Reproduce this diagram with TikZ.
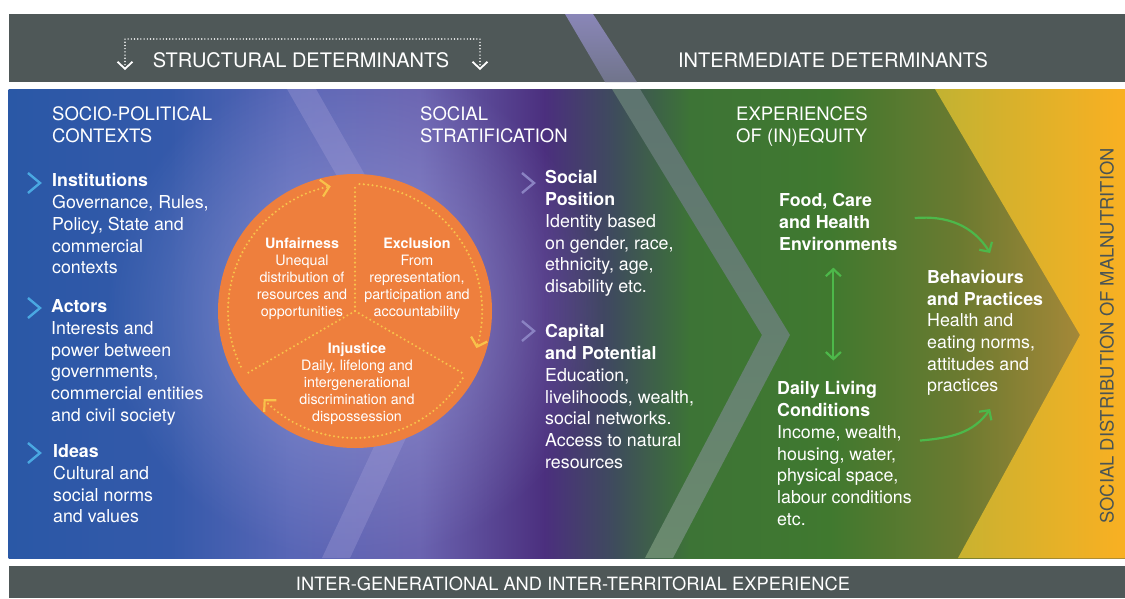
\documentclass[tikz,border=0pt]{standalone}
\usepackage{fontspec}
\setmainfont{TeX Gyre Heros}
\usetikzlibrary{arrows.meta,fadings}

\definecolor{barc}{HTML}{4F5858}
\definecolor{pa}{HTML}{2A58A6}
\definecolor{pb}{HTML}{3459AA}
\definecolor{pc}{HTML}{5866B6}
\definecolor{pd}{HTML}{6A63B0}
\definecolor{pe}{HTML}{4B2F7E}
\definecolor{pf}{HTML}{3E4C5C}
\definecolor{pg}{HTML}{3D7436}
\definecolor{ph}{HTML}{40792F}
\definecolor{pi}{HTML}{6B7A30}
\definecolor{pj}{HTML}{A58838}
\definecolor{yl}{HTML}{C2B232}
\definecolor{ym}{HTML}{F0B12A}
\definecolor{yr}{HTML}{F9B022}
\definecolor{glowc}{HTML}{A4A8E0}
\definecolor{bandc}{HTML}{A29ED8}
\definecolor{bandtop}{HTML}{5E7470}
\definecolor{bandmid}{HTML}{62B23E}
\definecolor{bandbot}{HTML}{6A8A6E}
\definecolor{ringc}{HTML}{EE7F3D}
\definecolor{dotc}{HTML}{F8C24A}
\definecolor{markblue}{HTML}{4AA8E2}
\definecolor{markpurp}{HTML}{8A82C2}
\definecolor{arrowgreen}{HTML}{4DB84A}
\definecolor{vtext}{HTML}{4A5454}

\tikzfading[name=glowfade, inner color=transparent!35, outer color=transparent!100]

\tikzset{
  colhead/.style={anchor=north west, inner sep=0pt, align=left, text=white, font=\fontsize{18.5}{22}\selectfont},
  colitem/.style={anchor=north west, inner sep=0pt, align=left, text=white, font=\fontsize{17.8}{21.7}\selectfont},
  ringtext/.style={inner sep=0pt, align=center, text=white, font=\fontsize{14.3}{17}\selectfont},
  bartext/.style={text=white, font=\fontsize{20}{24}\selectfont},
  ringdots/.style={dotc, line width=2.3pt, line cap=round, dash pattern=on 0pt off 4.4pt},
  ringtip/.style={-{Straight Barb[length=8pt,width=17pt,line width=2.2pt]}},
  chevmark/.style={line width=2.4pt},
  flow/.style={arrowgreen, line width=2.2pt, -{Straight Barb[length=7pt,width=15pt]}},
  dblflow/.style={arrowgreen, line width=2.2pt, {Straight Barb[length=7pt,width=15pt]}-{Straight Barb[length=7pt,width=15pt]}},
}

\begin{document}
\begin{tikzpicture}[x=1pt, y=1pt]
\useasboundingbox (0,0) rectangle (1125,-598);

% bars
\fill[barc] (9,-14) rectangle (1125,-82);
\fill[barc] (9,-566) rectangle (1125,-598);
\shade[top color=bandc!85!black, bottom color=barc!60!bandc] (565,-14) -- (593,-14) -- (637,-82) -- (605,-82) -- cycle;

% main panel
\foreach \xa/\xb/\ca/\cb in {9/170/pa/pb, 170/290/pb/pc, 290/420/pc/pd, 420/545/pd/pe, 545/615/pe/pf,
  615/690/pf/pg, 690/830/pg/ph, 830/960/ph/pi, 960/1080/pi/pj, 1080/1125/pj/pj}
  \shade[left color=\ca, right color=\cb] (\xa-0.5,-89) rectangle (\xb+0.5,-558);
\begin{scope}
  \clip (9,-89) rectangle (1125,-558);
  \fill[glowc, path fading=glowfade] (355,-311) circle (250);
\end{scope}

% chevrons
\fill[bandc, opacity=0.35] (287,-89) -- (316,-89) -- (455,-333) -- (350,-558) -- (322,-558) -- (427,-333) -- cycle;
\shade[top color=bandtop, middle color=bandmid, bottom color=bandbot]
  (612,-89) -- (640,-89) -- (790,-335) -- (673,-558) -- (645,-558) -- (762,-335) -- cycle;
\shade[left color=yl, middle color=ym, right color=yr] (935,-89) -- (1080,-335) -- (958,-558) -- (1125,-558) -- (1125,-89) -- cycle;

% top and bottom labels
\node[bartext] (struct) at (301,-60.5) {STRUCTURAL DETERMINANTS};
\node[bartext] (interm) at (833,-60.5) {INTERMEDIATE DETERMINANTS};
\node[bartext, font=\fontsize{18.3}{22}\selectfont] (intergen) at (573,-584) {INTER-GENERATIONAL AND INTER-TERRITORIAL EXPERIENCE};
\coordinate (bl) at (125,-70);
\coordinate (br) at (480,-70);
\draw[white, line width=1.6pt, line cap=round, dash pattern=on 0pt off 3.2pt,
  {Straight Barb[length=7pt,width=15pt,line width=1.8pt]}-{Straight Barb[length=7pt,width=15pt,line width=1.8pt]}]
  (bl) |- (480,-39) -- (br);

% the circle
\node[circle, fill=ringc, minimum size=274pt, inner sep=0pt] (ring) at (355,-311) {};
\draw[ringdots] (ring.center) -- ++(90:124);
\draw[ringdots] (ring.center) -- ++(210:126);
\draw[ringdots] (ring.center) -- ++(330:126);
\draw[ringdots, ringtip] ([shift={(206:127)}]ring.center) arc[start angle=206, end angle=101, radius=127];
\draw[ringdots, ringtip] ([shift={(88:127)}]ring.center) arc[start angle=88, end angle=-17, radius=127];
\draw[ringdots, ringtip] ([shift={(-32:127)}]ring.center) arc[start angle=-32, end angle=-136, radius=127];
\node[ringtext] (unfair) at (302,-279) {\textbf{Unfairness}\\Unequal\\distribution of\\resources and\\opportunities};
\node[ringtext] (excl) at (417,-279) {\textbf{Exclusion}\\From\\representation,\\participation and\\accountability};
\node[ringtext] (injust) at (357,-384) {\textbf{Injustice}\\Daily, lifelong and\\intergenerational\\discrimination and\\dispossession};

% socio-political contexts
\node[colhead] (socio) at (52,-106) {SOCIO-POLITICAL\\CONTEXTS};
\node[colitem] (inst) at (52,-173.5) {\textbf{Institutions}\\Governance, Rules,\\Policy, State and\\commercial\\contexts};
\node[colitem] (actors) at (51,-299.5) {\textbf{Actors}\\Interests and\\power between\\governments,\\commercial entities\\and civil society};
\node[colitem] (ideas) at (53,-444.5) {\textbf{Ideas}\\Cultural and\\social norms\\and values};
\foreach \y in {183,308,453}
  \draw[markblue, chevmark] (28,-\y+10) -- (40,-\y) -- (28,-\y-10);

% social stratification
\node[colhead] (strat) at (420,-106) {SOCIAL\\STRATIFICATION};
\node[colitem] (socpos) at (545,-170.5) {\textbf{Social}\\\textbf{Position}\\Identity based\\on gender, race,\\ethnicity, age,\\disability etc.};
\node[colitem] (capital) at (545,-324.5) {\textbf{Capital}\\\textbf{and Potential}\\Education,\\livelihoods, wealth,\\social networks.\\Access to natural\\resources};
\foreach \y in {183,331}
  \draw[markpurp, chevmark] (522,-\y+10) -- (534,-\y) -- (522,-\y-10);

% experiences of (in)equity
\node[colhead] (exper) at (736,-106) {EXPERIENCES\\OF (IN)EQUITY};
\node[colitem] (food) at (779,-193.5) {\textbf{Food, Care}\\\textbf{and Health}\\\textbf{Environments}};
\node[colitem] (daily) at (777,-381.5) {\textbf{Daily Living}\\\textbf{Conditions}\\Income, wealth,\\housing, water,\\physical space,\\labour conditions\\etc.};
\node[colitem] (behav) at (927,-270) {\textbf{Behaviours}\\\textbf{and Practices}\\Health and\\eating norms,\\attitudes and\\practices};

\draw[dblflow, shorten <=17pt, shorten >=21pt] ([xshift=-5pt]food.south) -- ([xshift=-5pt]food.south |- daily.north);
\draw[flow] ([xshift=17pt,yshift=4pt]food.east) to[out=5, in=122] ([xshift=5pt,yshift=17pt]behav.north);
\draw[flow] ([xshift=8pt,yshift=13pt]daily.east) to[out=5, in=-125] ([xshift=5pt,yshift=-13pt]behav.south);

\node[rotate=90, text=vtext, font=\fontsize{18.4}{22}\selectfont] (malnut) at (1107,-336) {SOCIAL DISTRIBUTION OF MALNUTRITION};
\end{tikzpicture}
\end{document}
